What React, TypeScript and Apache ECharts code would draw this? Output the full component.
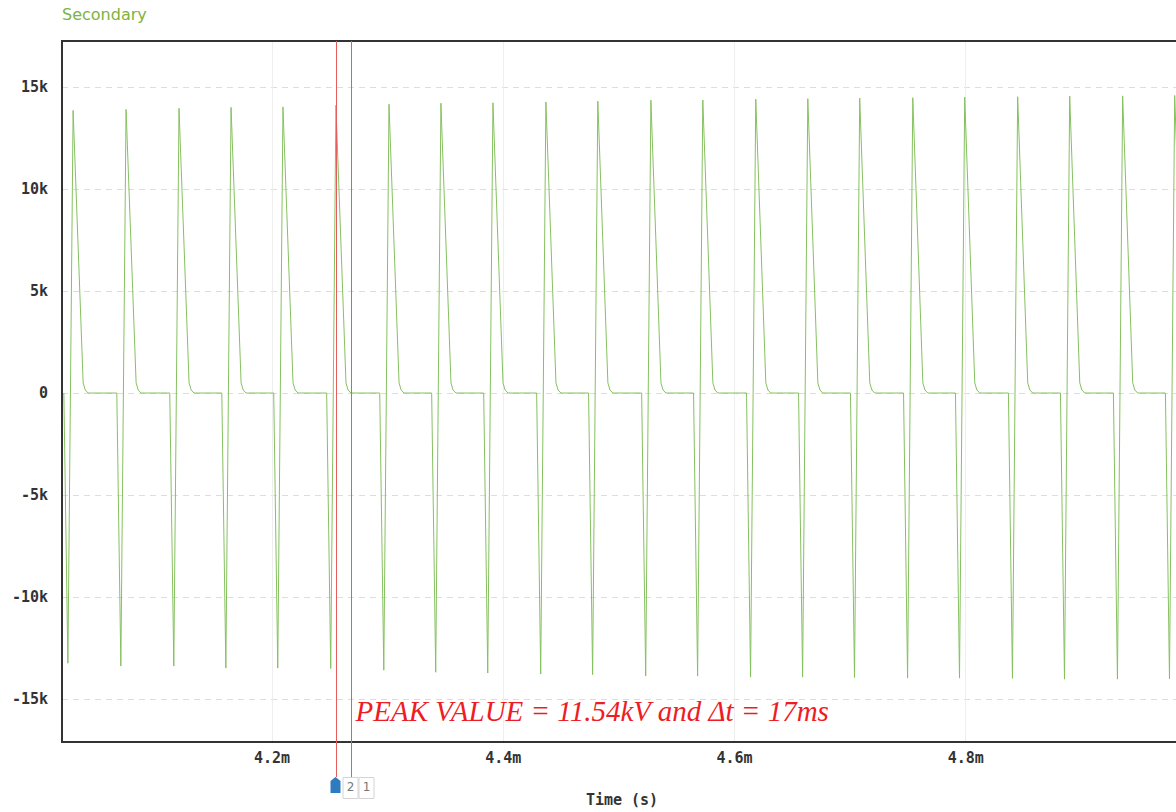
import React, { useEffect, useRef } from "react";
import * as echarts from "echarts";

// time of each positive peak (ms)
const peakTimes = [
  4.028, 4.0738, 4.1196, 4.1646, 4.2095, 4.2553, 4.3012, 4.3461, 4.3911, 4.4369, 4.4818,
  4.5277, 4.5726, 4.6184, 4.6634, 4.7083, 4.7542, 4.7991, 4.8449, 4.8899, 4.9357, 4.9807,
];
// positive peak values (kV)
const posPeaks = [
  13.85, 13.9, 13.95, 14.0, 14.02, 14.1, 14.15, 14.2, 14.22, 14.26, 14.3,
  14.35, 14.36, 14.4, 14.42, 14.45, 14.47, 14.5, 14.52, 14.55, 14.56, 14.58,
];
// negative spike values (kV)
const negPeaks = [
  -13.24, -13.38, -13.38, -13.48, -13.48, -13.5, -13.58, -13.68, -13.72, -13.77, -13.8,
  -13.87, -13.87, -13.92, -13.92, -13.94, -13.97, -13.97, -13.98, -14.02, -14.02, -14.0,
];
// one period's shape, offsets (ms) from the positive peak
const dropOffset = -0.008;
const spikeOffset = -0.0045;
const kneeOffsets = [0.0087, 0.0105, 0.013];
const kneeLevels = [0.5, 0.15, 0];

const cursorTimes = [4.2553, 4.2683];
const cursorTabs = ["2", "1"];

const xMin = 4.0184;
const xMax = 5.0;
const yMin = -17.1;
const yMax = 17.25;

const titleText = "Secondary";
const axisNameText = "Time (s)";
const noteText = "PEAK VALUE = 11.54kV and \u0394t = 17ms";

function buildData(): number[][] {
  const pts: number[][] = [];
  peakTimes.forEach((t, i) => {
    pts.push([t + dropOffset, 0]);
    pts.push([t + spikeOffset, negPeaks[i]]);
    pts.push([t, posPeaks[i]]);
    kneeOffsets.forEach((o, k) => pts.push([t + o, kneeLevels[k]]));
  });
  return pts;
}

const isMultiple = (v: number, step: number) => Math.abs(v / step - Math.round(v / step)) < 1e-6;

const monoFont = "'DejaVu Sans Mono', monospace";

export default function App() {
  const ref = useRef<HTMLDivElement>(null);
  useEffect(() => {
    if (!ref.current) return;
    const chart = echarts.init(ref.current, undefined, { renderer: "svg" });
    const top = 41;
    const bottom = 742;
    chart.setOption({
      animation: false,
      backgroundColor: "#ffffff",
      grid: {
        left: 62,
        top: top,
        right: 43,
        bottom: 812 - bottom,
        show: false,
      },
      xAxis: {
        type: "value",
        min: xMin,
        max: xMax,
        axisLine: { show: false },
        axisTick: { show: false },
        splitLine: {
          show: true,
          showMinLine: false,
          showMaxLine: false,
          lineStyle: { color: "#eeeeee", width: 1 },
        },
        axisLabel: {
          fontFamily: monoFont,
          fontSize: 15,
          fontWeight: "bold",
          color: "#333333",
          margin: 8,
          showMinLabel: false,
          showMaxLabel: false,
          formatter: (v: number) =>
            isMultiple(v, 0.2) && v > xMin + 1e-6 && v < xMax - 1e-6 ? v.toFixed(1) + "m" : "",
        },
      },
      yAxis: {
        type: "value",
        min: yMin,
        max: yMax,
        axisLine: { show: false },
        axisTick: { show: false },
        splitLine: {
          show: true,
          showMinLine: false,
          showMaxLine: false,
          lineStyle: { color: "#dddddd", type: [6, 5], width: 1 },
        },
        axisLabel: {
          fontFamily: monoFont,
          fontSize: 15,
          fontWeight: "bold",
          color: "#333333",
          margin: 14,
          showMinLabel: false,
          showMaxLabel: false,
          formatter: (v: number) => {
            if (!isMultiple(v, 5)) return "";
            const r = Math.round(v);
            return r === 0 ? "0" : r + "k";
          },
        },
      },
      series: [
        {
          type: "line",
          data: buildData(),
          showSymbol: false,
          symbol: "none",
          lineStyle: { color: "#86c060", width: 1 },
          clip: true,
        },
      ],
    });

    const cx = cursorTimes.map((t) => Math.round(chart.convertToPixel({ xAxisIndex: 0 }, t) as number) + 0.5);
    const leftPx = chart.convertToPixel({ xAxisIndex: 0 }, xMin) as number;
    const rightPx = chart.convertToPixel({ xAxisIndex: 0 }, xMax) as number;
    const c0 = cx[0];
    const graphics: any[] = [
      {
        type: "rect",
        z: 40,
        silent: true,
        shape: { x: leftPx, y: top, width: rightPx - leftPx, height: bottom - top },
        style: { fill: "none", stroke: "#333333", lineWidth: 2 },
      },
      {
        type: "text",
        x: 62,
        y: 14,
        style: {
          text: titleText,
          fill: "#7cb342",
          fontSize: 16,
          fontFamily: "'DejaVu Sans', sans-serif",
          align: "left",
          verticalAlign: "middle",
          textAlign: "left",
          textVerticalAlign: "middle",
        },
      },
      {
        type: "text",
        x: 622,
        y: 800,
        style: {
          text: axisNameText,
          fill: "#333333",
          fontSize: 15,
          fontWeight: "bold",
          fontFamily: monoFont,
          align: "center",
          verticalAlign: "middle",
          textAlign: "center",
          textVerticalAlign: "middle",
        },
      },
    ];
    cx.forEach((x, i) => {
      graphics.push({
        type: "line",
        z: 55 + i,
        silent: true,
        shape: { x1: x, y1: top, x2: x, y2: 777 },
        style: { stroke: "#e35d5d", lineWidth: 1, opacity: 1 },
      });
    });
    // cursor tab icon + boxes
    graphics.push({
      type: "polygon",
      z: 60,
      shape: {
        points: [
          [c0 - 6, 793],
          [c0 - 6, 781],
          [c0 - 1, 777],
          [c0 + 4, 781],
          [c0 + 4, 793],
        ],
      },
      style: { fill: "#2e7bbf" },
    });
    cursorTabs.forEach((lab, i) => {
      const bx = c0 + 6 + i * 16;
      graphics.push({
        type: "rect",
        z: 60,
        shape: { x: bx + 0.5, y: 777.5, width: 15, height: 21 },
        style: { fill: "#ffffff", stroke: "#d4d4d4", lineWidth: 1 },
      });
      graphics.push({
        type: "text",
        z: 61,
        x: bx + 8,
        y: 787,
        style: {
          text: lab,
          fill: "#777777",
          fontSize: 12,
          fontFamily: "'DejaVu Sans', sans-serif",
          align: "center",
          verticalAlign: "middle",
          textAlign: "center",
          textVerticalAlign: "middle",
        },
      });
    });
    graphics.push({
      type: "text",
      z: 70,
      x: cx[1] + 4,
      y: 711,
      style: {
        text: noteText,
        fill: "#ee1c25",
        fontSize: 29,
        fontStyle: "italic",
        fontFamily: "'Liberation Serif', 'Times New Roman', serif",
        align: "left",
        verticalAlign: "middle",
        textAlign: "left",
        textVerticalAlign: "middle",
      },
    });
    chart.setOption({ graphic: graphics });

    return () => chart.dispose();
  }, []);

  return (
    <div
      style={{
        position: "fixed",
        left: 0,
        top: 0,
        width: 1176,
        height: 812,
        overflow: "hidden",
        background: "#ffffff",
      }}
    >
      <div ref={ref} style={{ width: 1240, height: 812 }} />
    </div>
  );
}
